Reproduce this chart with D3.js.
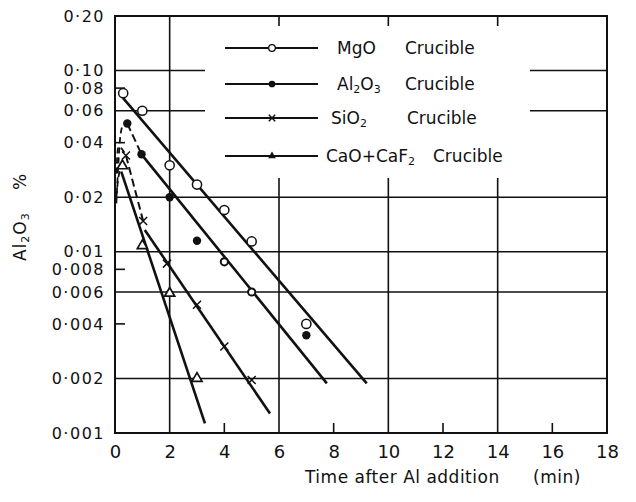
<!DOCTYPE html>
<html>
<head>
<meta charset="utf-8">
<script src="https://cdn.jsdelivr.net/npm/d3@7"></script>
<style>
  body { margin: 0; background: #fff; }
  svg { display: block; }
  text { font-family: "DejaVu Sans", sans-serif; fill: #111; }
</style>
</head>
<body>
<svg id="chart" width="636" height="502"></svg>
<script>
// ---- axis ticks -------------------------------------------------------
const xTickValues = [0, 2, 4, 6, 8, 10, 12, 14, 16, 18];
const xGridValues = [2, 6, 10, 14];
const xMinorTicks = [4, 8, 12, 16];
const yTickValues = [0.2, 0.1, 0.08, 0.06, 0.04, 0.02, 0.01, 0.008, 0.006, 0.004, 0.002, 0.001];
const yTickLabels = ["0·20", "0·10", "0·08", "0·06", "0·04", "0·02", "0·01", "0·008", "0·006", "0·004", "0·002", "0·001"];
const yGridValues = [0.1, 0.06, 0.02, 0.01, 0.006, 0.002];
const yMinorTicks = [0.08, 0.04, 0.008, 0.004];

// ---- measured Al2O3 (%) vs time after Al addition (min) --------------
const mgoPoints = [[0.3, 0.075], [1, 0.060], [2, 0.030], [3, 0.0235], [4, 0.0170], [5, 0.0114], [7, 0.0040]];
const al2o3Points = [[0.45, 0.051], [0.97, 0.0345], [2, 0.020], [3, 0.0115], [7, 0.00346]];
const al2o3HollowPoints = [[4, 0.0088], [5, 0.0060]];
const sio2Points = [[0.4, 0.034], [1.03, 0.0148], [1.9, 0.0086], [3, 0.0051], [4, 0.0030], [5, 0.00196]];
const caoPoints = [[0.27, 0.0298], [1.0, 0.0108], [2, 0.0059], [3, 0.0020]];

// fitted straight lines (start, end)
const mgoFit = [[0.29, 0.0706], [9.21, 0.00188]];
const al2o3Fit = [[0.97, 0.0345], [7.75, 0.00188]];
const sio2Fit = [[1.09, 0.0132], [5.67, 0.00128]];
const caoFit = [[0.23, 0.0277], [3.29, 0.00113]];

// early-stage dashed traces
const al2o3Rise = [[0.05, 0.0185], [0.12, 0.030], [0.2, 0.044], [0.3, 0.050], [0.45, 0.051]];
const al2o3Link = [[0.45, 0.051], [0.97, 0.0345]];
const sio2Rise = [[0.05, 0.027], [0.12, 0.038], [0.25, 0.037], [0.4, 0.034]];
const sio2Link = [[0.4, 0.034], [1.03, 0.0148]];
const caoRise = [[0.05, 0.020], [0.13, 0.026], [0.27, 0.0298]];

// legend
const legendNames = ["MgO", "Al2O3", "SiO2", "CaO+CaF2"];
const legendMarkers = ["openCircle", "filledCircle", "cross", "filledTriangle"];

// ---- scales -----------------------------------------------------------
const svg = d3.select("#chart");
const x = d3.scaleLinear().domain([0, 18]).range([115, 607]);
const y = d3.scaleLog().domain([0.001, 0.2]).range([433, 16]);
const line = d3.line().x(d => x(d[0])).y(d => y(d[1]));
const curve = d3.line().x(d => x(d[0])).y(d => y(d[1])).curve(d3.curveMonotoneX);

const gGrid = svg.append("g").attr("stroke", "#111").attr("stroke-width", 1.6);

// grid
gGrid.selectAll("line.gx").data(xGridValues).join("line")
  .attr("x1", d => x(d)).attr("x2", d => x(d))
  .attr("y1", y(0.2)).attr("y2", y(0.001));
gGrid.selectAll("line.gy").data(yGridValues).join("line")
  .attr("x1", x(0)).attr("x2", x(18))
  .attr("y1", d => y(d)).attr("y2", d => y(d));

// minor ticks, drawn inward
gGrid.selectAll("line.mx").data(xMinorTicks).join("line")
  .attr("x1", d => x(d)).attr("x2", d => x(d))
  .attr("y1", y(0.001)).attr("y2", y(0.001) - 10);
gGrid.selectAll("line.my").data(yMinorTicks).join("line")
  .attr("x1", x(0)).attr("x2", x(0) + 10)
  .attr("y1", d => y(d)).attr("y2", d => y(d));

// legend background clears the grid behind the key
svg.append("rect").attr("x", 205).attr("y", 26).attr("width", 325).attr("height", 152).attr("fill", "#fff");

// frame
svg.append("rect")
  .attr("x", x(0)).attr("y", y(0.2))
  .attr("width", x(18) - x(0)).attr("height", y(0.001) - y(0.2))
  .attr("fill", "none").attr("stroke", "#111").attr("stroke-width", 2);

// axes (labels only; frame and grid drawn above)
const xAxis = d3.axisBottom(x).tickValues(xTickValues).tickSize(0).tickPadding(10).tickFormat(d3.format("d"));
const gx = svg.append("g").attr("transform", `translate(0,${y(0.001)})`).call(xAxis);
gx.select(".domain").remove();
gx.selectAll("text").attr("font-size", 18).attr("font-family", "DejaVu Sans").attr("fill", "#111").attr("dy", "0.85em");

const yAxis = d3.axisLeft(y).tickValues(yTickValues).tickSize(0).tickPadding(10)
  .tickFormat((d, i) => yTickLabels[i]);
const gy = svg.append("g").attr("transform", `translate(${x(0)},0)`).call(yAxis);
gy.select(".domain").remove();
gy.selectAll("text").attr("font-size", 16).attr("font-family", "DejaVu Sans").attr("fill", "#111")
  .attr("letter-spacing", 1.5);

// ---- series lines -----------------------------------------------------
const gLines = svg.append("g").attr("fill", "none").attr("stroke", "#111");
[mgoFit, al2o3Fit, sio2Fit, caoFit].forEach(seg => {
  gLines.append("path").attr("d", line(seg)).attr("stroke-width", 2.6);
});
[al2o3Link, sio2Link].forEach(seg => {
  gLines.append("path").attr("d", line(seg)).attr("stroke-width", 2).attr("stroke-dasharray", "8,4");
});
[al2o3Rise, sio2Rise, caoRise].forEach(seg => {
  gLines.append("path").attr("d", curve(seg)).attr("stroke-width", 1.8).attr("stroke-dasharray", "6,4");
});

// ---- markers ----------------------------------------------------------
function drawMarker(g, kind, cx, cy, scale) {
  const s = scale || 1;
  if (kind === "openCircle") {
    g.append("circle").attr("cx", cx).attr("cy", cy).attr("r", 4.6 * s)
      .attr("fill", "#fff").attr("stroke", "#111").attr("stroke-width", 1.5);
  } else if (kind === "smallOpenCircle") {
    g.append("circle").attr("cx", cx).attr("cy", cy).attr("r", 3.6 * s)
      .attr("fill", "#fff").attr("stroke", "#111").attr("stroke-width", 2);
  } else if (kind === "filledCircle") {
    g.append("circle").attr("cx", cx).attr("cy", cy).attr("r", 4.2 * s).attr("fill", "#111");
  } else if (kind === "cross") {
    const r = 4 * s;
    g.append("path").attr("d", `M${cx - r},${cy - r}L${cx + r},${cy + r}M${cx - r},${cy + r}L${cx + r},${cy - r}`)
      .attr("stroke", "#111").attr("stroke-width", 1.5).attr("fill", "none");
  } else if (kind === "openTriangle") {
    g.append("path").attr("d", d3.symbol(d3.symbolTriangle, 44 * s * s)())
      .attr("transform", `translate(${cx},${cy})`)
      .attr("fill", "#fff").attr("stroke", "#111").attr("stroke-width", 1.7);
  } else if (kind === "filledTriangle") {
    g.append("path").attr("d", d3.symbol(d3.symbolTriangle, 40 * s * s)())
      .attr("transform", `translate(${cx},${cy})`).attr("fill", "#111");
  }
}

const gMarks = svg.append("g");
mgoPoints.forEach(d => drawMarker(gMarks, "openCircle", x(d[0]), y(d[1])));
al2o3Points.forEach(d => drawMarker(gMarks, "filledCircle", x(d[0]), y(d[1])));
al2o3HollowPoints.forEach(d => drawMarker(gMarks, "smallOpenCircle", x(d[0]), y(d[1])));
sio2Points.forEach(d => drawMarker(gMarks, "cross", x(d[0]), y(d[1])));
caoPoints.forEach(d => drawMarker(gMarks, "openTriangle", x(d[0]), y(d[1])));

// ---- legend -----------------------------------------------------------
const legendRowY = [48, 84, 118, 156];
const legendNameX = [337, 337, 331, 326];
const legendWordX = [405, 405, 407, 433];
const gLeg = svg.append("g");

// writes a chemical formula; its digits become subscripts
function formula(t, name, big, small) {
  let lowered = false;
  name.split(/(\d)/).filter(s => s.length).forEach(part => {
    const sp = t.append("tspan");
    if (/\d/.test(part)) {
      sp.attr("font-size", small).attr("dy", 3).text(part);
      lowered = true;
    } else {
      sp.attr("font-size", big).text(part);
      if (lowered) { sp.attr("dy", -3); lowered = false; }
    }
  });
}

legendNames.forEach((name, i) => {
  const ry = legendRowY[i];
  gLeg.append("line").attr("x1", 225).attr("x2", 318).attr("y1", ry).attr("y2", ry)
    .attr("stroke", "#111").attr("stroke-width", 2);
  if (legendMarkers[i] === "openCircle") {
    gLeg.append("circle").attr("cx", 272).attr("cy", ry).attr("r", 3.3)
      .attr("fill", "#fff").attr("stroke", "#111").attr("stroke-width", 1.3);
  } else {
    drawMarker(gLeg, legendMarkers[i], 272, ry, 0.8);
  }
  const t = gLeg.append("text").attr("x", legendNameX[i]).attr("y", ry + 6).attr("font-size", 17);
  formula(t, name, 17, 11);
  gLeg.append("text").attr("x", legendWordX[i]).attr("y", ry + 6).attr("font-size", 17).text("Crucible");
});

// ---- axis titles ------------------------------------------------------
const yt = svg.append("text").attr("transform", "translate(26,261) rotate(-90)").attr("font-size", 17)
  .attr("letter-spacing", 1);
formula(yt, "Al2O3", 17, 11);
svg.append("text").attr("transform", "translate(26,190) rotate(-90)").attr("font-size", 17).text("%");

const xt = svg.append("text").attr("y", 483).attr("font-size", 17).attr("letter-spacing", 0.5);
xt.append("tspan").attr("x", 305).text("Time after Al addition");
xt.append("tspan").attr("x", 533).text("(min)");
</script>
</body>
</html>
